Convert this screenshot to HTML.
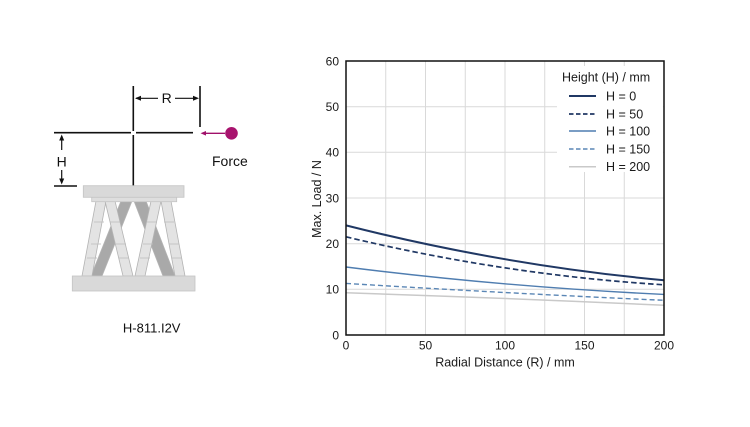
<!DOCTYPE html>
<html>
<head>
<meta charset="utf-8">
<style>
  html, body { margin: 0; padding: 0; background: #ffffff; }
  body { width: 750px; height: 427px; overflow: hidden; }
  svg { display: block; font-family: "Liberation Sans", "DejaVu Sans", sans-serif; }
</style>
</head>
<body>
<svg width="750" height="427" viewBox="0 0 750 427" xmlns="http://www.w3.org/2000/svg">
  <rect x="0" y="0" width="750" height="427" fill="#ffffff"/>

  <!-- ============ LEFT DIAGRAM ============ -->
  <!-- center vertical line -->
  <line x1="133.3" y1="86" x2="133.3" y2="131" stroke="#111" stroke-width="1.6"/>
  <line x1="133.3" y1="135" x2="133.3" y2="186" stroke="#111" stroke-width="1.6"/>
  <!-- right vertical line -->
  <line x1="200" y1="86" x2="200" y2="127" stroke="#111" stroke-width="1.6"/>
  <!-- R dimension arrow -->
  <line x1="136" y1="98.3" x2="158" y2="98.3" stroke="#111" stroke-width="1.2"/>
  <line x1="175" y1="98.3" x2="197" y2="98.3" stroke="#111" stroke-width="1.2"/>
  <polygon points="135,98.3 141,95.8 141,100.8" fill="#111"/>
  <polygon points="199,98.3 193,95.8 193,100.8" fill="#111"/>
  <text x="166.7" y="103" font-size="14" text-anchor="middle" fill="#111">R</text>
  <!-- horizontal line at load height -->
  <line x1="54" y1="132.7" x2="131" y2="132.7" stroke="#111" stroke-width="1.6"/>
  <line x1="136" y1="132.7" x2="193" y2="132.7" stroke="#111" stroke-width="1.6"/>
  <!-- lower line at platform -->
  <line x1="54" y1="186" x2="77" y2="186" stroke="#111" stroke-width="1.6"/>
  <!-- H dimension arrow -->
  <line x1="61.7" y1="136" x2="61.7" y2="150" stroke="#111" stroke-width="1.2"/>
  <line x1="61.7" y1="170" x2="61.7" y2="183" stroke="#111" stroke-width="1.2"/>
  <polygon points="61.7,134.5 59.2,140.5 64.2,140.5" fill="#111"/>
  <polygon points="61.7,184.5 59.2,178.5 64.2,178.5" fill="#111"/>
  <text x="61.7" y="166.5" font-size="14" text-anchor="middle" fill="#111">H</text>
  <!-- Force arrow + ball -->
  <line x1="204" y1="133.3" x2="225" y2="133.3" stroke="#a0106a" stroke-width="1.3"/>
  <polygon points="200.5,133.3 206,131 206,135.6" fill="#a0106a"/>
  <circle cx="231.5" cy="133.3" r="6.3" fill="#a8136e"/>
  <text x="212" y="166" font-size="14" fill="#111">Force</text>

  <!-- hexapod legs -->
  <g stroke="#b3b3b3" stroke-width="0.8">
    <!-- dark legs (back) -->
    <polygon points="121,201 132,201 102,276 91,276" fill="#a9a9a9"/>
    <polygon points="134,201 146,201 175,276 163,276" fill="#a9a9a9"/>
    <!-- light legs (front) -->
    <polygon points="96,201 106,201 92,276 82,276" fill="#e3e3e3"/>
    <polygon points="105,201 115,201 133,276 123,276" fill="#e3e3e3"/>
    <polygon points="151,201 161,201 145,276 135,276" fill="#e3e3e3"/>
    <polygon points="161,201 171,201 185,276 175,276" fill="#e3e3e3"/>
  </g>
  <!-- leg segment lines -->
  <g stroke="#bdbdbd" stroke-width="0.8">
    <line x1="94" y1="222" x2="104" y2="222"/>
    <line x1="91" y1="244" x2="101" y2="244"/>
    <line x1="87" y1="258" x2="97" y2="258"/>
    <line x1="110" y1="222" x2="120" y2="222"/>
    <line x1="116" y1="244" x2="126" y2="244"/>
    <line x1="119" y1="258" x2="129" y2="258"/>
    <line x1="147" y1="222" x2="157" y2="222"/>
    <line x1="143" y1="244" x2="153" y2="244"/>
    <line x1="140" y1="258" x2="150" y2="258"/>
    <line x1="164" y1="222" x2="174" y2="222"/>
    <line x1="169" y1="244" x2="179" y2="244"/>
    <line x1="172" y1="258" x2="182" y2="258"/>
  </g>
  <!-- top plate -->
  <rect x="91.7" y="196" width="85" height="5.7" fill="#dedede" stroke="#c4c4c4" stroke-width="0.8"/>
  <rect x="83.3" y="185.7" width="100.7" height="11.6" fill="#d9d9d9" stroke="#c4c4c4" stroke-width="0.8"/>
  <!-- base plate -->
  <rect x="72.3" y="276" width="122.7" height="15" fill="#d9d9d9" stroke="#c4c4c4" stroke-width="0.8"/>

  <text x="151.7" y="332.5" font-size="13" text-anchor="middle" fill="#111">H-811.I2V</text>

  <!-- ============ CHART ============ -->
  <!-- gridlines -->
  <g stroke="#d9d9d9" stroke-width="1">
    <line x1="385.75" y1="61" x2="385.75" y2="335"/>
    <line x1="425.5" y1="61" x2="425.5" y2="335"/>
    <line x1="465.25" y1="61" x2="465.25" y2="335"/>
    <line x1="505" y1="61" x2="505" y2="335"/>
    <line x1="544.75" y1="61" x2="544.75" y2="335"/>
    <line x1="584.5" y1="61" x2="584.5" y2="335"/>
    <line x1="624.25" y1="61" x2="624.25" y2="335"/>
    <line x1="346" y1="289.3" x2="664" y2="289.3"/>
    <line x1="346" y1="243.7" x2="664" y2="243.7"/>
    <line x1="346" y1="198" x2="664" y2="198"/>
    <line x1="346" y1="152.3" x2="664" y2="152.3"/>
    <line x1="346" y1="106.7" x2="664" y2="106.7"/>
  </g>
  <!-- legend background -->
  <rect x="557" y="66" width="106" height="106" fill="#ffffff"/>

  <!-- series -->
  <g fill="none">
    <path d="M346,292.8 Q505,297.9 664,305.3" stroke="#c9c9c9" stroke-width="1.5"/>
    <path d="M346,283.4 Q505,293.2 664,300.3" stroke="#5a86b5" stroke-width="1.4" stroke-dasharray="5,3"/>
    <path d="M346,267 Q505,287 664,294.4" stroke="#4f7db0" stroke-width="1.4"/>
    <path d="M346,236.8 Q505,274.9 664,284.8" stroke="#203864" stroke-width="1.7" stroke-dasharray="5.5,3"/>
    <path d="M346,225.4 Q505,265.6 664,280.2" stroke="#203864" stroke-width="2"/>
  </g>

  <!-- plot border -->
  <rect x="346" y="61" width="318" height="274" fill="none" stroke="#111" stroke-width="1.5"/>

  <!-- legend -->
  <text x="562" y="81.5" font-size="12.5" fill="#1a1a1a">Height (H) / mm</text>
  <g fill="none">
    <line x1="569" y1="96" x2="596" y2="96" stroke="#203864" stroke-width="2"/>
    <line x1="569" y1="114" x2="596" y2="114" stroke="#203864" stroke-width="1.7" stroke-dasharray="4.5,2.5"/>
    <line x1="569" y1="131" x2="596" y2="131" stroke="#4f7db0" stroke-width="1.4"/>
    <line x1="569" y1="149" x2="596" y2="149" stroke="#5a86b5" stroke-width="1.4" stroke-dasharray="4.5,2.5"/>
    <line x1="569" y1="166.7" x2="596" y2="166.7" stroke="#c9c9c9" stroke-width="1.5"/>
  </g>
  <g font-size="12.5" fill="#1a1a1a">
    <text x="606" y="100.5">H = 0</text>
    <text x="606" y="118.5">H = 50</text>
    <text x="606" y="135.5">H = 100</text>
    <text x="606" y="153.5">H = 150</text>
    <text x="606" y="171">H = 200</text>
  </g>

  <!-- y tick labels -->
  <g font-size="12" fill="#1a1a1a" text-anchor="end">
    <text x="339" y="339.3">0</text>
    <text x="339" y="293.6">10</text>
    <text x="339" y="248">20</text>
    <text x="339" y="202.3">30</text>
    <text x="339" y="156.6">40</text>
    <text x="339" y="111">50</text>
    <text x="339" y="65.3">60</text>
  </g>
  <!-- x tick labels -->
  <g font-size="12" fill="#1a1a1a" text-anchor="middle">
    <text x="346" y="349.5">0</text>
    <text x="425.5" y="349.5">50</text>
    <text x="505" y="349.5">100</text>
    <text x="584.5" y="349.5">150</text>
    <text x="664" y="349.5">200</text>
  </g>
  <!-- axis titles -->
  <text x="505" y="366.5" font-size="12.5" text-anchor="middle" fill="#1a1a1a">Radial Distance (R) / mm</text>
  <text x="0" y="0" font-size="12.5" text-anchor="middle" fill="#1a1a1a" transform="translate(321,199) rotate(-90)">Max. Load / N</text>
</svg>
</body>
</html>
